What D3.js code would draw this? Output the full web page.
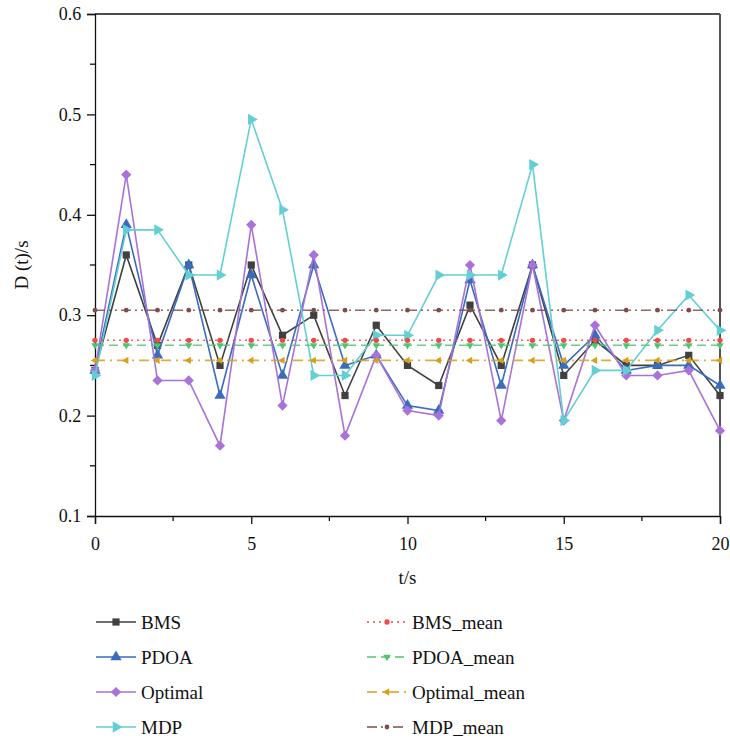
<!DOCTYPE html>
<html><head><meta charset="utf-8">
<script src="https://cdn.jsdelivr.net/npm/d3@7"></script>
</head><body style="margin:0"><svg id="c" width="730" height="744"></svg>
<script>
const t = d3.range(0, 21);
const BMS     = [0.245,0.36,0.27,0.35,0.25,0.35,0.28,0.30,0.22,0.29,0.25,0.23,0.31,0.25,0.35,0.24,0.275,0.25,0.25,0.26,0.22];
const PDOA    = [0.245,0.39,0.26,0.35,0.22,0.34,0.24,0.35,0.25,0.26,0.21,0.205,0.335,0.23,0.35,0.25,0.28,0.245,0.25,0.25,0.23];
const Optimal = [0.245,0.44,0.235,0.235,0.17,0.39,0.21,0.36,0.18,0.26,0.205,0.20,0.35,0.195,0.35,0.195,0.29,0.24,0.24,0.245,0.185];
const MDP     = [0.24,0.385,0.385,0.34,0.34,0.495,0.405,0.24,0.24,0.28,0.28,0.34,0.34,0.34,0.45,0.195,0.245,0.245,0.285,0.32,0.285];
const means = {BMS_mean:0.275, PDOA_mean:0.27, Optimal_mean:0.255, MDP_mean:0.305};
const xTicks = [0,5,10,15,20];
const yTicks = [0.1,0.2,0.3,0.4,0.5,0.6];

const FONT = "Liberation Serif";
const svg = d3.select("#c");
const L=95, R=720, T=14, B=516;
const x = d3.scaleLinear().domain([0,20]).range([L,R]);
const y = d3.scaleLinear().domain([0.1,0.6]).range([B,T]);

const series = [
  {name:"BMS", data:BMS, color:"#404040", sym:d3.symbolSquare, size:52, rot:0},
  {name:"PDOA", data:PDOA, color:"#3a6bbf", sym:d3.symbolTriangle, size:55, rot:0},
  {name:"Optimal", data:Optimal, color:"#a872d8", sym:d3.symbolSquare, size:52, rot:45},
  {name:"MDP", data:MDP, color:"#62cfd4", sym:d3.symbolTriangle, size:55, rot:90}
];
const meanSeries = [
  {name:"BMS_mean", v:means.BMS_mean, color:"#ef4a4a", dash:"2,4", sym:d3.symbolCircle, size:22, rot:0},
  {name:"PDOA_mean", v:means.PDOA_mean, color:"#4cc770", dash:"9,5", sym:d3.symbolTriangle, size:24, rot:180},
  {name:"Optimal_mean", v:means.Optimal_mean, color:"#d6a01e", dash:"10,5,2,5", sym:d3.symbolTriangle, size:24, rot:-90},
  {name:"MDP_mean", v:means.MDP_mean, color:"#7d4d4b", dash:"10,4,2,4,2,4", sym:d3.symbolCircle, size:18, rot:0}
];

function txt(sel){ return sel.attr("font-family",FONT).style("font-family",FONT).attr("fill","#111"); }

// axes
const xAxis = d3.axisBottom(x).tickValues(xTicks).tickSize(8).tickFormat(d3.format("d"));
const gx = svg.append("g").attr("transform",`translate(0,${B})`).call(xAxis);
const yAxis = d3.axisLeft(y).tickValues(yTicks).tickSize(8).tickFormat(d3.format(".1f"));
const gy = svg.append("g").attr("transform",`translate(${L},0)`).call(yAxis);
[gx,gy].forEach(g=>{
  g.attr("font-family",null).attr("font-size",null);
  g.select(".domain").attr("stroke","#111").attr("stroke-width",1.3);
  g.selectAll(".tick line").attr("stroke","#111").attr("stroke-width",1.3);
  txt(g.selectAll(".tick text")).attr("font-size",18);
});
gx.selectAll(".tick text").attr("dy","1.3em");
gy.selectAll(".tick text").attr("dx","-0.15em");
// minor ticks
svg.append("g").selectAll("line").data([2.5,7.5,12.5,17.5]).join("line")
  .attr("x1",d=>x(d)).attr("x2",d=>x(d)).attr("y1",B).attr("y2",B+5).attr("stroke","#111").attr("stroke-width",1.3);
svg.append("g").selectAll("line").data([0.15,0.25,0.35,0.45,0.55]).join("line")
  .attr("y1",d=>y(d)).attr("y2",d=>y(d)).attr("x1",L).attr("x2",L-5).attr("stroke","#111").attr("stroke-width",1.3);
// frame top/right
svg.append("line").attr("x1",L).attr("x2",R).attr("y1",T).attr("y2",T).attr("stroke","#111").attr("stroke-width",1.3);
svg.append("line").attr("x1",R).attr("x2",R).attr("y1",T).attr("y2",B).attr("stroke","#555").attr("stroke-width",2);

// labels
txt(svg.append("text").attr("x",(L+R)/2).attr("y",584).attr("text-anchor","middle").attr("font-size",19)).text("t/s");
txt(svg.append("text").attr("transform",`translate(28,${(T+B)/2}) rotate(-90)`).attr("text-anchor","middle").attr("font-size",19)).text("D (t)/s");

const line = d3.line().x((d,i)=>x(t[i])).y(d=>y(d));
series.forEach(s=>{
  svg.append("path").datum(s.data).attr("d",line).attr("fill","none").attr("stroke",s.color).attr("stroke-width",1.6);
  svg.append("g").selectAll("path").data(s.data).join("path")
    .attr("d",d3.symbol().type(s.sym).size(s.size))
    .attr("transform",(d,i)=>`translate(${x(t[i])},${y(d)}) rotate(${s.rot})`)
    .attr("fill",s.color);
});
meanSeries.forEach(m=>{
  svg.append("line").attr("x1",x(0)).attr("x2",x(20)).attr("y1",y(m.v)).attr("y2",y(m.v))
    .attr("stroke",m.color).attr("stroke-width",1.6).attr("stroke-dasharray",m.dash).attr("opacity",0.85);
  svg.append("g").selectAll("path").data(t).join("path")
    .attr("d",d3.symbol().type(m.sym).size(m.size))
    .attr("transform",d=>`translate(${x(d)},${y(m.v)}) rotate(${m.rot})`)
    .attr("fill",m.color);
});

// legend
const rows=[622,657,692,727];
function legItem(lx, ly, s, dash){
  const g = svg.append("g");
  g.append("line").attr("x1",lx).attr("x2",lx+40).attr("y1",ly).attr("y2",ly).attr("stroke",s.color).attr("stroke-width",1.6)
    .attr("stroke-dasharray",dash||null);
  g.append("path").attr("d",d3.symbol().type(s.sym).size(s.size)).attr("transform",`translate(${lx+20},${ly}) rotate(${s.rot})`).attr("fill",s.color);
  txt(g.append("text").attr("x",lx+45).attr("y",ly).attr("dy","0.35em").attr("font-size",19)).text(s.name);
}
series.forEach((s,i)=>legItem(96, rows[i], s));
meanSeries.forEach((m,i)=>legItem(367, rows[i], m, m.dash));
</script></body></html>
